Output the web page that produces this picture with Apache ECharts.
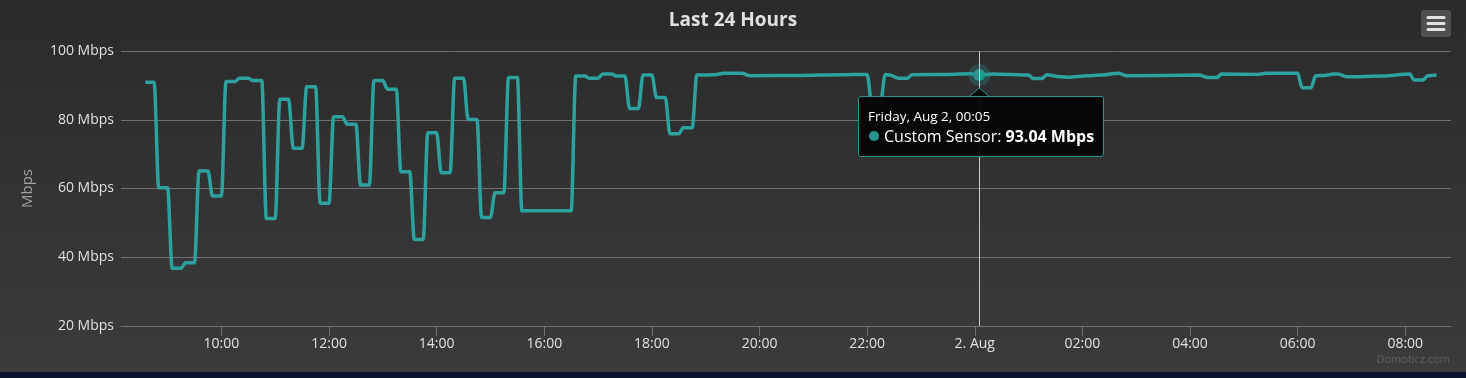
<!DOCTYPE html>
<html>
<head>
<meta charset="utf-8">
<script src="https://cdn.jsdelivr.net/npm/echarts@6/dist/echarts.min.js"></script>
<style>
  html, body { margin: 0; padding: 0; background: #0b1530; }
  #chart { width: 1466px; height: 372px; }
</style>
</head>
<body>
<div id="chart"></div>
<script>
// readings, Aug 1 08:35 -> Aug 2 08:35 (times roll over past midnight)
const times = [
  '08:35', '08:45', '08:50', '09:00', '09:05', '09:15', '09:20', '09:30', '09:35', '09:45',
  '09:50', '10:00', '10:05', '10:15', '10:20', '10:30', '10:35', '10:45', '10:50', '11:00',
  '11:05', '11:15', '11:20', '11:30', '11:35', '11:45', '11:50', '12:00', '12:05', '12:15',
  '12:20', '12:30', '12:35', '12:45', '12:50', '13:00', '13:05', '13:15', '13:20', '13:30',
  '13:35', '13:45', '13:50', '14:00', '14:05', '14:15', '14:20', '14:30', '14:35', '14:45',
  '14:50', '15:00', '15:05', '15:15', '15:20', '15:30', '15:35', '16:30', '16:35', '16:45',
  '16:50', '17:00', '17:05', '17:15', '17:20', '17:30', '17:35', '17:45', '17:50', '18:00',
  '18:05', '18:15', '18:20', '18:30', '18:35', '18:45', '18:50', '19:10', '19:20', '19:40',
  '19:50', '20:45', '21:30', '22:00', '22:05', '22:15', '22:20', '22:25', '22:35', '22:45',
  '22:50', '23:30', '23:55', '00:05', '00:20', '01:00', '01:05', '01:15', '01:20', '01:35',
  '01:45', '02:05', '02:20', '02:40', '02:50', '04:10', '04:20', '04:30', '04:35', '05:15',
  '05:25', '06:00', '06:05', '06:15', '06:20', '06:30', '06:40', '06:45', '06:55', '07:35',
  '08:05', '08:10', '08:20', '08:25', '08:35'
];
const speeds = [
  90.9, 90.9, 60.2, 60.2, 36.8, 36.8, 38.4, 38.4, 65.1, 65.1,
  57.8, 57.8, 91.1, 91.1, 92.1, 92.1, 91.4, 91.4, 51.3, 51.3,
  86.0, 86.0, 71.7, 71.7, 89.6, 89.6, 55.7, 55.7, 80.9, 80.9,
  78.7, 78.7, 61.0, 61.0, 91.4, 91.4, 88.9, 88.9, 64.9, 64.9,
  45.2, 45.2, 76.2, 76.2, 64.6, 64.6, 92.1, 92.1, 80.1, 80.1,
  51.6, 51.6, 58.8, 58.8, 92.3, 92.3, 53.5, 53.5, 92.7, 92.7,
  92.1, 92.1, 93.3, 93.3, 92.7, 92.7, 83.3, 83.3, 93.0, 93.0,
  86.5, 86.5, 75.9, 75.9, 77.7, 77.7, 93.0, 93.1, 93.5, 93.5,
  92.8, 92.9, 93.1, 93.2, 84.8, 84.8, 93.2, 93.0, 92.1, 92.1,
  93.1, 93.2, 93.4, 93.04, 93.3, 93.0, 92.0, 92.0, 93.1, 92.5,
  92.4, 92.8, 93.0, 93.5, 92.8, 93.0, 92.3, 92.3, 93.3, 93.2,
  93.5, 93.5, 89.3, 89.3, 92.8, 92.9, 93.3, 93.3, 92.5, 92.7,
  93.3, 91.6, 91.6, 92.8, 93.0
];
const tickLabels = ['10:00', '12:00', '14:00', '16:00', '18:00', '20:00', '22:00',
                    '2. Aug', '02:00', '04:00', '06:00', '08:00'];
const yTicks = [20, 40, 60, 80, 100];
const seriesName = 'Custom Sensor';
const hoverTime = '00:05';

const dayNames = ['Thursday, Aug 1', 'Friday, Aug 2'];
const lineColor = '#29948f';
const font = '"Open Sans", "Noto Sans", sans-serif';

// minutes since Aug 1 00:00
let day = 0, prev = -1;
const minutes = times.map(t => {
  let [h, m] = t.split(':').map(Number);
  let v = h * 60 + m;
  if (v < prev) day++;
  prev = v;
  return day * 1440 + v;
});
const points = minutes.map((m, i) => [m, speeds[i]]);
const tickValues = tickLabels.map((_, i) => 600 + i * 120);
const hoverIndex = times.indexOf(hoverTime, 90);
const tipTop = 96;

function pad(n) { return (n < 10 ? '0' : '') + n; }

let chart = echarts.init(document.getElementById('chart'));
chart.setOption({
  animation: false,
  backgroundColor: {
    type: 'linear', x: 0, y: 0, x2: 0, y2: 1,
    colorStops: [{offset: 0, color: '#2a2a2b'}, {offset: 1, color: '#3b3b3d'}]
  },
  textStyle: {fontFamily: font},
  title: {
    text: 'Last 24 Hours',
    left: 'center',
    top: 6,
    textStyle: {color: '#e0e0e3', fontSize: 19, fontWeight: 'bold', fontFamily: font}
  },
  grid: {left: 121, right: 15, top: 51, bottom: 46},
  tooltip: {
    trigger: 'axis',
    alwaysShowContent: true,
    backgroundColor: 'rgba(5,5,5,0.95)',
    borderColor: lineColor,
    borderWidth: 1,
    padding: [10, 9, 9, 9],
    extraCssText: 'border-radius:3px;box-shadow:none;',
    position: function () { return [858, tipTop]; },
    axisPointer: {
      type: 'line',
      lineStyle: {color: '#c8c8c8', width: 1, type: 'solid'},
      label: {show: false}
    },
    formatter: function (params) {
      let p = params[0];
      let m = p.value[0];
      let d = Math.floor(m / 1440), r = m % 1440;
      let head = dayNames[d] + ', ' + pad(Math.floor(r / 60)) + ':' + pad(r % 60);
      return '<div style="font-family:' + font.replace(/"/g, "'") + ';color:#fff">' +
        '<div style="font-size:13.5px;line-height:18px">' + head + '</div>' +
        '<div style="font-size:16px;line-height:22px">' +
        '<span style="display:inline-block;width:10px;height:10px;border-radius:50%;background:' +
        lineColor + ';margin:0 5px 1px 1px"></span>' + p.seriesName + ': <b>' +
        p.value[1].toFixed(2) + ' Mbps</b></div></div>';
    }
  },
  xAxis: {
    type: 'value',
    min: 488,
    max: 1971,
    axisLine: {lineStyle: {color: '#707073', width: 1}},
    axisTick: {show: true, customValues: tickValues, length: 10, lineStyle: {color: '#707073'}},
    axisLabel: {
      customValues: tickValues,
      color: '#e0e0e3',
      fontSize: 14,
      margin: 11,
      fontFamily: font,
      formatter: v => tickLabels[tickValues.indexOf(v)]
    },
    splitLine: {show: false}
  },
  yAxis: {
    type: 'value',
    min: yTicks[0],
    max: yTicks[yTicks.length - 1],
    interval: 20,
    name: 'Mbps',
    nameLocation: 'middle',
    nameGap: 86,
    nameTextStyle: {color: '#a0a0a3', fontSize: 15, fontFamily: font},
    axisLine: {show: false},
    axisTick: {show: false},
    axisLabel: {color: '#e0e0e3', fontSize: 14, margin: 7, fontFamily: font, formatter: '{value} Mbps'},
    splitLine: {lineStyle: {color: '#707073', width: 1}}
  },
  series: [{
    name: seriesName,
    type: 'line',
    data: points,
    smooth: 0.3,
    smoothMonotone: 'x',
    showSymbol: false,
    symbol: 'circle',
    symbolSize: 12,
    lineStyle: {color: lineColor, width: 3.5},
    itemStyle: {color: lineColor},
    emphasis: {
      scale: false,
      lineStyle: {width: 3.5},
      itemStyle: {color: lineColor, borderColor: 'rgba(41,148,143,0.3)', borderWidth: 10}
    }
  }],
  graphic: [
    {
      type: 'group', right: 15, top: 10,
      children: [
        {type: 'rect', shape: {x: 0, y: 0, width: 30, height: 27, r: 3}, style: {fill: '#505053'}},
        {type: 'line', shape: {x1: 7, y1: 7.5, x2: 23, y2: 7.5}, style: {stroke: '#e0e0e3', lineWidth: 3, lineCap: 'round'}},
        {type: 'line', shape: {x1: 7, y1: 13.5, x2: 23, y2: 13.5}, style: {stroke: '#e0e0e3', lineWidth: 3, lineCap: 'round'}},
        {type: 'line', shape: {x1: 7, y1: 19.5, x2: 23, y2: 19.5}, style: {stroke: '#e0e0e3', lineWidth: 3, lineCap: 'round'}}
      ]
    },
    {
      type: 'text', right: 16, bottom: 7,
      style: {text: 'Domoticz.com', fill: '#5e5e60', fontSize: 11, fontFamily: font}
    }
  ]
});

// tooltip callout pointing up at the hovered point
let hp = chart.convertToPixel({gridIndex: 0}, points[hoverIndex]);
chart.setOption({
  graphic: [{
    id: 'callout', type: 'polyline', z: 100,
    shape: {points: [[hp[0] - 10, tipTop + 0.5], [hp[0], hp[1] + 13], [hp[0] + 10, tipTop + 0.5]]},
    style: {fill: 'rgba(5,5,5,0.95)', stroke: lineColor, lineWidth: 1}
  }]
});
chart.dispatchAction({type: 'showTip', seriesIndex: 0, dataIndex: hoverIndex});
</script>
</body>
</html>
